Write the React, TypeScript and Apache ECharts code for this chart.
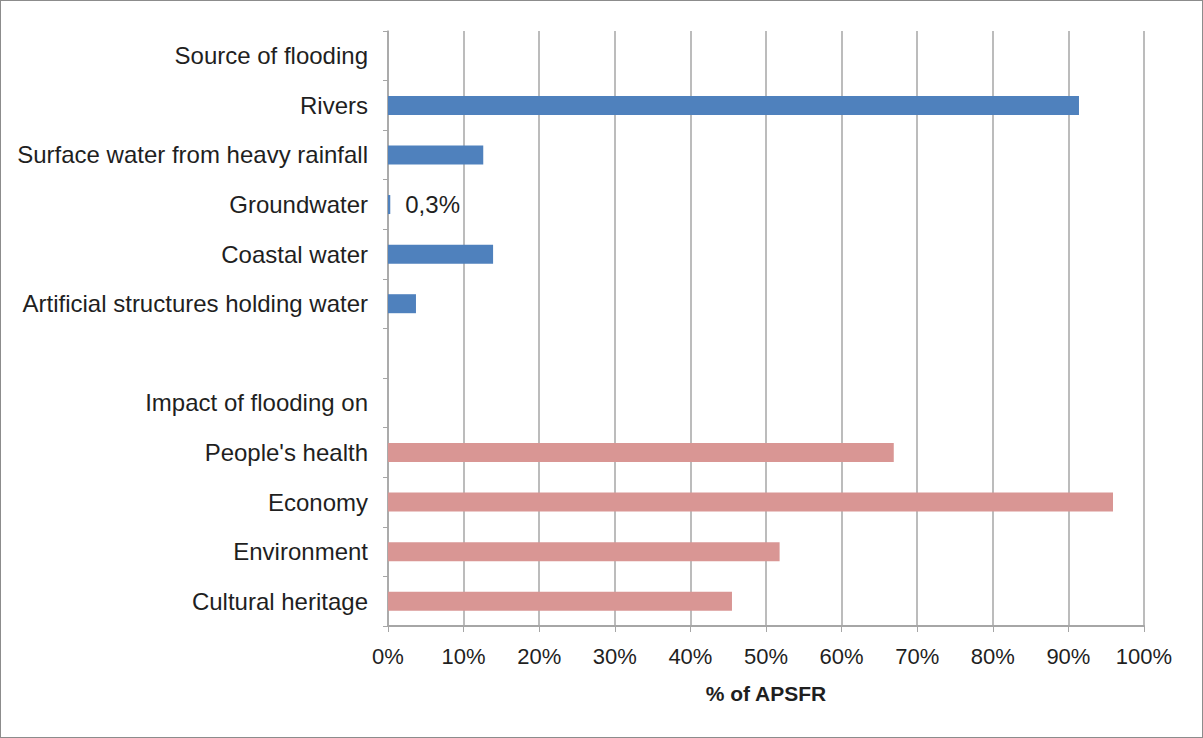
import React, { useEffect, useRef } from "react";
import * as echarts from "echarts";

const categories = [
  "Source of flooding",
  "Rivers",
  "Surface water from heavy rainfall",
  "Groundwater",
  "Coastal water",
  "Artificial structures holding water",
  "",
  "Impact of flooding on",
  "People's health",
  "Economy",
  "Environment",
  "Cultural heritage",
];

// values in % of APSFR (null = header / spacer rows)
const sourceValues: (number | null)[] = [null, 91.4, 12.6, 0.3, 13.9, 3.7, null, null, null, null, null, null];
const impactValues: (number | null)[] = [null, null, null, null, null, null, null, null, 66.9, 95.9, 51.8, 45.5];
const labelledCategory = "Groundwater";
const labelledText = "0,3%";
const xTicks = [0, 100, 10];

const FONT = "'Liberation Sans', Arial, sans-serif";
const TEXT = "#1f1f1f";

export default function App() {
  const ref = useRef<HTMLDivElement>(null);
  useEffect(() => {
    if (!ref.current) return;
    const chart = echarts.init(ref.current, undefined, { renderer: "svg" });
    const data = categories.map((c, i) => {
      const s = sourceValues[i];
      const m = impactValues[i];
      if (s != null) {
        return {
          value: s,
          itemStyle: { color: "#4f81bd" },
          label:
            c === labelledCategory
              ? {
                  show: true,
                  position: "right",
                  distance: 15,
                  formatter: labelledText,
                  fontSize: 24,
                  color: TEXT,
                  fontFamily: FONT,
                }
              : { show: false },
        };
      }
      if (m != null) {
        return { value: m, itemStyle: { color: "#d99694" } };
      }
      return { value: null };
    });
    chart.setOption({
      animation: false,
      backgroundColor: "#fff",
      grid: { left: 387, right: 57, top: 30, bottom: 110, containLabel: false },
      xAxis: {
        type: "value",
        min: xTicks[0],
        max: xTicks[1],
        interval: xTicks[2],
        name: "% of APSFR",
        nameLocation: "middle",
        nameGap: 57,
        nameTextStyle: { fontSize: 21, fontWeight: "bold", color: TEXT, fontFamily: FONT },
        axisLine: { show: true, lineStyle: { color: "#a6a6a6", width: 2 } },
        axisTick: { show: true, length: 6, lineStyle: { color: "#a6a6a6", width: 1 } },
        axisLabel: {
          formatter: "{value}%",
          fontSize: 22,
          color: TEXT,
          fontFamily: FONT,
          margin: 19,
        },
        splitLine: { show: true, lineStyle: { color: "#a6a6a6", width: 1.5 } },
      },
      yAxis: {
        type: "category",
        data: categories,
        inverse: true,
        axisLine: { show: true, lineStyle: { color: "#a6a6a6", width: 1.5 } },
        axisTick: { show: true, length: 5, lineStyle: { color: "#a6a6a6" } },
        axisLabel: { fontSize: 24, color: TEXT, fontFamily: FONT, margin: 20 },
        splitLine: { show: false },
      },
      series: [
        {
          type: "bar",
          data,
          barWidth: 19,
        },
      ],
    });
    return () => chart.dispose();
  }, []);
  return (
    <div
      style={{
        position: "fixed",
        left: 0,
        top: 0,
        width: 1203,
        height: 738,
        boxSizing: "border-box",
        border: "1.5px solid #8c8c8c",
        background: "#fff",
      }}
    >
      <div ref={ref} style={{ width: 1200, height: 735 }} />
    </div>
  );
}
